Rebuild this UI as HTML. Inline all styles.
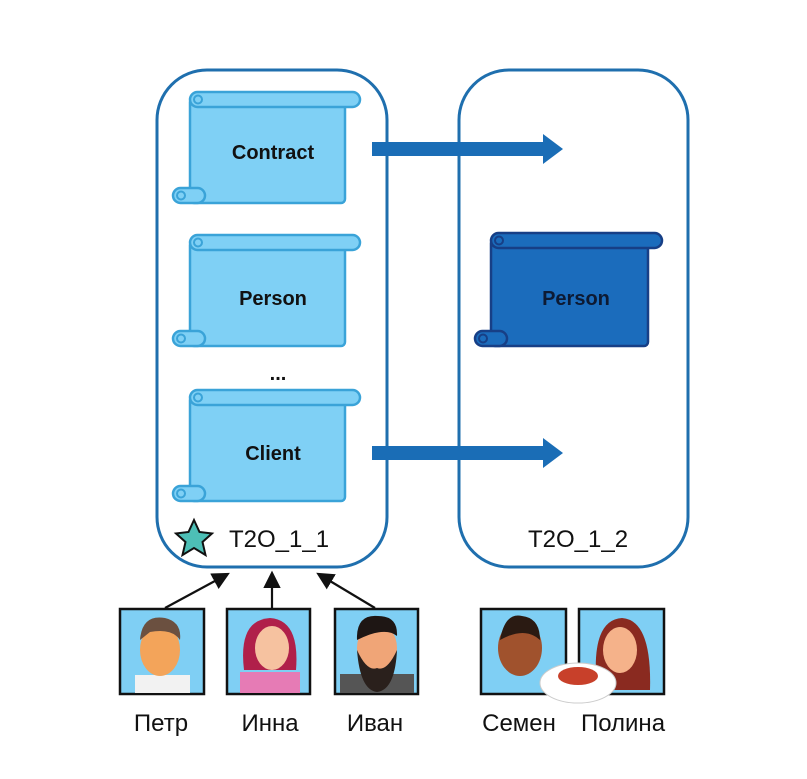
<!DOCTYPE html>
<html><head><meta charset="utf-8"><style>html,body{margin:0;padding:0;background:#fff}svg{display:block}</style></head>
<body>
<svg width="807" height="779" viewBox="0 0 807 779" xmlns="http://www.w3.org/2000/svg" font-family="Liberation Sans, sans-serif">
<defs>
<g id="scrollL">
  <rect x="0" y="6" width="155" height="105" rx="4" fill="#7fd0f5" stroke="#3aa3d8" stroke-width="2.5"/>
  <rect x="0" y="0" width="170" height="15" rx="7.5" fill="#7fd0f5" stroke="#3aa3d8" stroke-width="2.5"/>
  <circle cx="8" cy="7.5" r="4" fill="none" stroke="#3aa3d8" stroke-width="2"/>
  <rect x="-17" y="96" width="32" height="15" rx="7.5" fill="#7fd0f5" stroke="#3aa3d8" stroke-width="2.5"/>
  <circle cx="-9" cy="103.5" r="4" fill="none" stroke="#3aa3d8" stroke-width="2"/>
</g>
<marker id="ah" markerWidth="8" markerHeight="8" refX="6" refY="4" orient="auto"><path d="M0,0 L8,4 L0,8 z" fill="#111"/></marker>
</defs>
<rect x="157" y="70" width="230" height="497" rx="50" fill="none" stroke="#1f6fae" stroke-width="3"/>
<rect x="459" y="70" width="229" height="497" rx="50" fill="none" stroke="#1f6fae" stroke-width="3"/>

<use href="#scrollL" x="190" y="92"/>
<use href="#scrollL" x="190" y="235"/>
<use href="#scrollL" x="190" y="390"/>
<g font-weight="bold" font-size="20" text-anchor="middle" fill="#111">
<text x="273" y="159">Contract</text>
<text x="273" y="305">Person</text>
<text x="273" y="460">Client</text>
<text x="278" y="380">...</text>
</g>

<g transform="translate(491,233)">
  <rect x="0" y="6" width="157" height="107" rx="4" fill="#1b6cbc" stroke="#173f86" stroke-width="2.5"/>
  <rect x="0" y="0" width="171" height="15" rx="7.5" fill="#1b6cbc" stroke="#173f86" stroke-width="2.5"/>
  <circle cx="8" cy="7.5" r="4" fill="none" stroke="#173f86" stroke-width="2"/>
  <rect x="-16" y="98" width="32" height="15" rx="7.5" fill="#1b6cbc" stroke="#173f86" stroke-width="2.5"/>
  <circle cx="-8" cy="105.5" r="4" fill="none" stroke="#173f86" stroke-width="2"/>
</g>
<text x="576" y="305" font-weight="bold" font-size="20" text-anchor="middle" fill="#0d1a33">Person</text>

<path d="M372,142 H543 V134 L563,149 L543,164 V156 H372 z" fill="#1a6db6"/>
<path d="M372,446 H543 V438 L563,453 L543,468 V460 H372 z" fill="#1a6db6"/>

<polygon points="194,520 199.5,532 212,533.5 202.5,542 205.5,555 194,548 182.5,555 185.5,542 176,533.5 188.5,532" fill="#4dbfb6" stroke="#111" stroke-width="2"/>
<g font-size="24" fill="#111">
<text x="229" y="547">T2O_1_1</text>
<text x="528" y="547">T2O_1_2</text>
</g>

<g stroke="#111" stroke-width="2.2" marker-end="url(#ah)">
<line x1="165" y1="608" x2="226" y2="575"/>
<line x1="272" y1="608" x2="272" y2="575"/>
<line x1="375" y1="608" x2="320" y2="575"/>
</g>

<g stroke="#111" stroke-width="2.5" fill="#7fcff4">
<rect x="120" y="609" width="84" height="85"/>
<rect x="227" y="609" width="83" height="85"/>
<rect x="335" y="609" width="83" height="85"/>
<rect x="481" y="609" width="85" height="85"/>
<rect x="579" y="609" width="85" height="85"/>
</g>
<g>
<rect x="135" y="675" width="55" height="18" fill="#f2f2f2"/>
<ellipse cx="160" cy="650" rx="20" ry="26" fill="#f3a45a"/>
<path d="M140,640 Q142,614 165,618 Q182,622 180,640 Q172,628 150,632 z" fill="#6b5040"/>
<rect x="240" y="672" width="60" height="21" fill="#e67bb5"/>
<path d="M244,670 Q238,620 270,618 Q300,620 296,670 z" fill="#b0204a"/>
<ellipse cx="272" cy="648" rx="17" ry="22" fill="#f6c2a0"/>
<rect x="340" y="674" width="74" height="19" fill="#555"/>
<ellipse cx="377" cy="648" rx="20" ry="25" fill="#f0a577"/>
<path d="M357,650 Q360,690 377,692 Q395,690 397,650 Q387,672 377,668 Q367,672 357,650 z" fill="#2a201c"/>
<path d="M357,640 Q356,614 378,616 Q398,616 397,636 Q385,626 357,640 z" fill="#1e1614"/>
<ellipse cx="520" cy="648" rx="22" ry="28" fill="#a0522d"/>
<path d="M500,640 Q505,612 522,616 Q540,618 540,640 Q525,626 500,640 z" fill="#2a1a12"/>
<path d="M597,690 Q590,620 622,618 Q652,620 650,690 z" fill="#8a2a20"/>
<ellipse cx="620" cy="650" rx="17" ry="23" fill="#f5b28a"/>
<ellipse cx="578" cy="683" rx="38" ry="20" fill="#fff" stroke="#ccc"/>
<ellipse cx="578" cy="676" rx="20" ry="9" fill="#c8402a"/>
</g>
<g font-size="24" fill="#111" text-anchor="middle">
<text x="161" y="731">Петр</text>
<text x="270" y="731">Инна</text>
<text x="375" y="731">Иван</text>
<text x="519" y="731">Семен</text>
<text x="623" y="731">Полина</text>
</g>
</svg>
</body></html>
